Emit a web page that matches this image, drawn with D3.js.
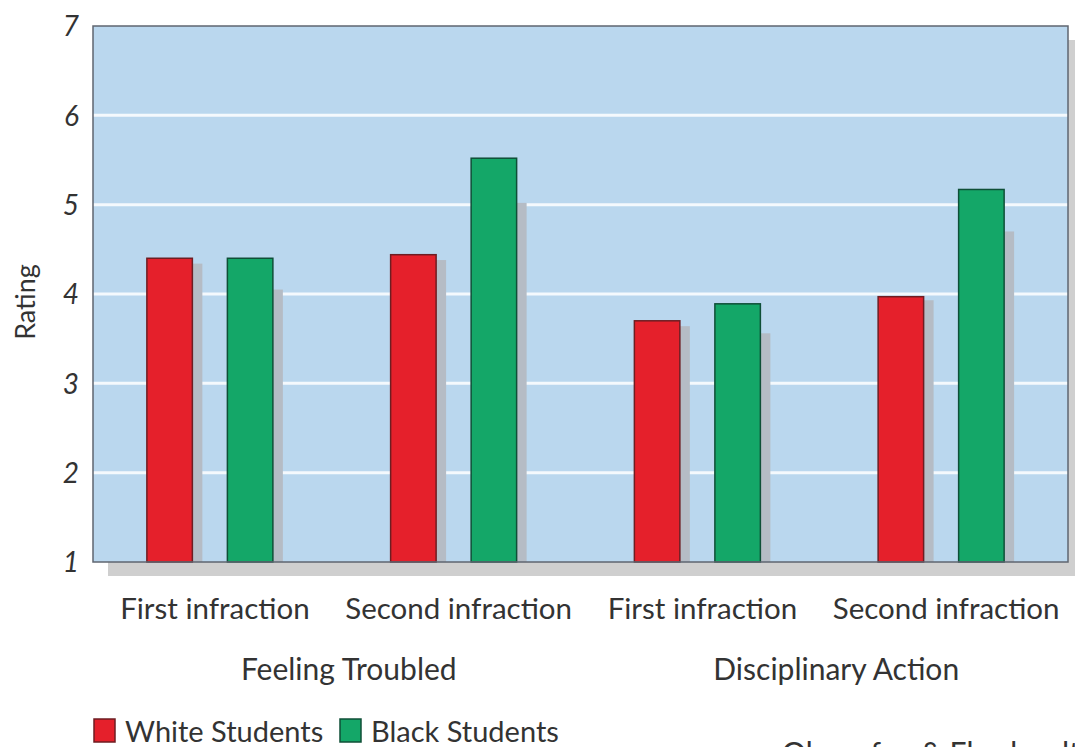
<!DOCTYPE html>
<html>
<head>
<meta charset="utf-8">
<script src="https://cdn.jsdelivr.net/npm/d3@7"></script>
<style>
  html, body { margin: 0; padding: 0; background: #fff; }
  svg { display: block; }
  text { font-family: Lato, "Open Sans", "DejaVu Sans", sans-serif; fill: #333; }
</style>
</head>
<body>
<script>
// Ratings by infraction and race of student
const categories = ["First infraction", "Second infraction", "First infraction", "Second infraction"];
const groups = ["Feeling Troubled", "Disciplinary Action"];
const series = ["White Students", "Black Students"];
const whiteValues = [4.40, 4.44, 3.70, 3.97];
const blackValues = [4.40, 5.52, 3.89, 5.17];
// heights of the gray drop shadows behind each bar
const whiteShadow = [4.34, 4.38, 3.64, 3.93];
const blackShadow = [4.05, 5.02, 3.56, 4.70];
const yTicks = [1, 2, 3, 4, 5, 6, 7];
const colors = ["#e5202b", "#14a768"];
const strokes = ["#6e1d22", "#0f4f37"];

const W = 1075, H = 747;
const plot = { left: 93, right: 1068, top: 26, bottom: 562 };

const svg = d3.select("body").append("svg").attr("width", W).attr("height", H);

const y = d3.scaleLinear().domain([1, 7]).range([plot.bottom, plot.top]);
const x = d3.scaleBand().domain(d3.range(categories.length)).range([plot.left, plot.right]);
const xs = d3.scaleBand().domain(series).range([0, 126]).paddingInner(0.435).paddingOuter(0);

// frame shadow
svg.append("rect")
  .attr("x", plot.left + 15).attr("y", plot.top + 14)
  .attr("width", plot.right - plot.left).attr("height", plot.bottom - plot.top)
  .attr("fill", "#cfcfcf");

// plot background
svg.append("rect")
  .attr("x", plot.left).attr("y", plot.top)
  .attr("width", plot.right - plot.left).attr("height", plot.bottom - plot.top)
  .attr("fill", "#bad7ee");

// gridlines
svg.append("g").selectAll("line")
  .data(yTicks.filter(t => t > 1 && t < 7))
  .join("line")
  .attr("x1", plot.left).attr("x2", plot.right)
  .attr("y1", d => y(d)).attr("y2", d => y(d))
  .attr("stroke", "#f4f9fd").attr("stroke-width", 3);

const rows = categories.map((c, i) => ({
  i,
  vals: [whiteValues[i], blackValues[i]],
  shadows: [whiteShadow[i], blackShadow[i]]
}));

const groupStart = i => x(i) + x.bandwidth() / 2 - 68;

// bar shadows
rows.forEach(r => {
  series.forEach((s, k) => {
    const bx = groupStart(r.i) + xs(s);
    svg.append("rect")
      .attr("x", bx + xs.bandwidth()).attr("y", y(r.shadows[k]))
      .attr("width", 10).attr("height", plot.bottom - y(r.shadows[k]))
      .attr("fill", "#b5bcc5");
  });
});

// bars
rows.forEach(r => {
  series.forEach((s, k) => {
    svg.append("rect")
      .attr("x", groupStart(r.i) + xs(s)).attr("y", y(r.vals[k]))
      .attr("width", xs.bandwidth()).attr("height", plot.bottom - y(r.vals[k]))
      .attr("fill", colors[k]).attr("stroke", strokes[k]).attr("stroke-width", 1.5);
  });
});

// frame
svg.append("rect")
  .attr("x", plot.left).attr("y", plot.top)
  .attr("width", plot.right - plot.left).attr("height", plot.bottom - plot.top)
  .attr("fill", "none").attr("stroke", "#5f6670").attr("stroke-width", 1.5);

// y axis
const yAxis = d3.axisLeft(y).tickValues(yTicks).tickSize(0).tickPadding(14).tickFormat(d3.format("d"));
const yg = svg.append("g").attr("transform", `translate(${plot.left},0)`).call(yAxis);
yg.select(".domain").remove();
yg.selectAll("text")
  .attr("font-size", 28).attr("font-style", "italic")
  .attr("font-family", "Lato, sans-serif").attr("fill", "#333")
  .attr("dy", "0.35em");

svg.append("text")
  .attr("transform", `translate(35,${(plot.top + plot.bottom) / 2 + 8}) rotate(-90)`)
  .attr("text-anchor", "middle").attr("font-size", 27)
  .text("Rating");

// category labels
const xAxis = d3.axisBottom(x).tickSize(0).tickPadding(0).tickFormat(i => categories[i]);
const xg = svg.append("g").attr("transform", `translate(0,${plot.bottom})`).call(xAxis);
xg.select(".domain").remove();
xg.selectAll("text")
  .attr("font-size", 29.5).attr("font-family", "Lato, sans-serif").attr("fill", "#333")
  .attr("y", 57).attr("dy", 0);

// group labels
groups.forEach((g, j) => {
  const cx = (x(2 * j) + x(2 * j + 1) + x.bandwidth()) / 2 + 12;
  svg.append("text").attr("x", cx).attr("y", 680)
    .attr("text-anchor", "middle").attr("font-size", 30).text(g);
});

// legend
const legendX = [94, 340];
series.forEach((s, k) => {
  svg.append("rect").attr("x", legendX[k]).attr("y", 719).attr("width", 21).attr("height", 23)
    .attr("fill", colors[k]).attr("stroke", strokes[k]).attr("stroke-width", 1.5);
  svg.append("text").attr("x", legendX[k] + 31).attr("y", 742)
    .attr("font-size", 29).text(s);
});

// source line (runs off the bottom edge)
svg.append("text").attr("x", 782).attr("y", 764)
  .attr("font-size", 30).text("Okonofua & Eberhardt, 2015");
</script>
</body>
</html>
